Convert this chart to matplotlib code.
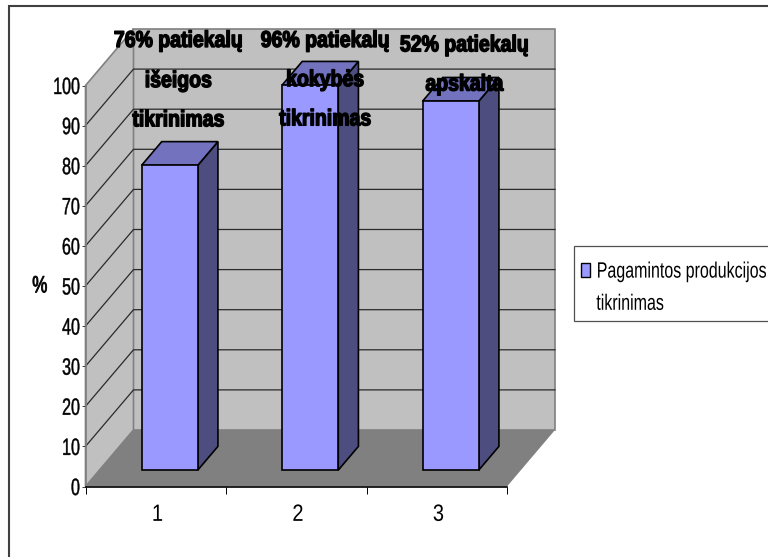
import matplotlib
matplotlib.use("Agg")
import matplotlib.pyplot as plt
from matplotlib.legend_handler import HandlerPatch
from matplotlib.patches import Patch, Polygon, Rectangle
from matplotlib.patheffects import AbstractPathEffect
from matplotlib.path import Path
from matplotlib.transforms import Affine2D

categories = ["1", "2", "3"]
values = [76, 96, 92]
bar_labels = [
    "76% patiekalų\nišeigos\ntikrinimas",
    "96% patiekalų\nkokybės\ntikrinimas",
    "52% patiekalų\napskaita",
]
label_x = [0.66, 1.705, 2.695]
label_top = [114.1, 114.1, 113.0]
y_ticks = list(range(0, 101, 10))
legend_label = "Pagamintos produkcijos\ntikrinimas"

WALL = "#C0C0C0"
FLOOR = "#808080"
EDGE_GRAY = "#808080"
BAR_FRONT = "#9999FF"
BAR_TOP = "#7272BF"
BAR_SIDE = "#4D4D80"

# Oblique depth of the 3-D box, in data units.
DEPTH_X = 0.3416
DEPTH_Y = 14.09
BAR_WIDTH = 0.40
BAR_NEAR = 0.29
BAR_FAR = 0.71


class Condensed(AbstractPathEffect):
    """Squeeze a text run horizontally, optionally thickening or nudging it."""

    def __init__(self, factor, anchor="center", stroke=0.0, drop=0.0):
        super().__init__()
        self.factor = factor
        self.anchor = anchor
        self.stroke = stroke
        self.drop = drop

    def draw_path(self, renderer, gc, tpath, affine, rgbFace=None):
        box = tpath.get_extents()
        pivot = {"left": box.x0, "right": box.x1, "center": (box.x0 + box.x1) / 2}[self.anchor]
        squeeze = Affine2D().translate(-pivot, 0).scale(self.factor, 1).translate(pivot, 0)
        squeezed = Path(squeeze.transform(tpath.vertices), tpath.codes)
        gc0 = renderer.new_gc()
        gc0.copy_properties(gc)
        if self.stroke:
            gc0.set_linewidth(self.stroke)
            gc0.set_foreground(rgbFace)
        else:
            gc0.set_linewidth(0)
        renderer.draw_path(gc0, squeezed, affine + Affine2D().translate(0, -self.drop), rgbFace)
        gc0.restore()


def legend_key(legend, orig_handle, xdescent, ydescent, width, height, fontsize):
    # Small swatch level with the first of the two legend lines.
    return Rectangle((-xdescent - 0.18 * fontsize, -ydescent + 0.77 * fontsize),
                     0.41 * fontsize, 0.63 * fontsize)


plt.rcParams["font.family"] = ["Liberation Sans", "DejaVu Sans"]

fig = plt.figure(figsize=(7.68, 5.57), dpi=100, facecolor="white")
W, H = fig.get_size_inches() * fig.dpi
ax = fig.add_axes([85.5 / W, (H - 486.5) / H, 421.5 / W, 401 / H])
ax.set_xlim(0, len(categories))
ax.set_ylim(0, 100)
ax.patch.set_visible(False)

# Chart frame, running off the right and bottom of the canvas.
fig.add_artist(Rectangle((9 / W, -0.05), 1.2, (H - 6) / H + 0.05, transform=fig.transFigure,
                         facecolor="none", edgecolor="#404040", linewidth=1.5))

n = len(categories)
# Back wall, side wall and floor of the box.
ax.add_patch(Polygon([(DEPTH_X, DEPTH_Y), (n + DEPTH_X, DEPTH_Y), (n + DEPTH_X, 100 + DEPTH_Y), (DEPTH_X, 100 + DEPTH_Y)],
                     closed=True, facecolor=WALL, edgecolor=EDGE_GRAY, linewidth=1.2, clip_on=False, zorder=1))
ax.add_patch(Polygon([(0, 0), (DEPTH_X, DEPTH_Y), (DEPTH_X, 100 + DEPTH_Y), (0, 100)],
                     closed=True, facecolor=WALL, edgecolor=EDGE_GRAY, linewidth=1.2, clip_on=False, zorder=1))
for v in y_ticks[1:-1]:
    ax.plot([0, DEPTH_X, n + DEPTH_X], [v, v + DEPTH_Y, v + DEPTH_Y], color="#2a2a2a",
            linewidth=0.9, clip_on=False, zorder=2)
ax.add_patch(Polygon([(0, 0), (n, 0), (n + DEPTH_X, DEPTH_Y), (DEPTH_X, DEPTH_Y)],
                     closed=True, facecolor=FLOOR, edgecolor="none", clip_on=False, zorder=3))

# Bars: side and top faces follow the depth offset of the front face.
for i, v in enumerate(values):
    left = i + 0.5 - BAR_WIDTH / 2 + BAR_NEAR * DEPTH_X
    right = left + BAR_WIDTH
    base = BAR_NEAR * DEPTH_Y
    span_x = (BAR_FAR - BAR_NEAR) * DEPTH_X
    span_y = (BAR_FAR - BAR_NEAR) * DEPTH_Y
    style = dict(closed=True, edgecolor="black", linewidth=1.2, clip_on=False, zorder=4)
    ax.add_patch(Polygon([(right, base), (right + span_x, base + span_y),
                          (right + span_x, base + span_y + v), (right, base + v)],
                         facecolor=BAR_SIDE, **style))
    ax.add_patch(Polygon([(left, base + v), (right, base + v),
                          (right + span_x, base + v + span_y), (left + span_x, base + v + span_y)],
                         facecolor=BAR_TOP, **style))
    ax.bar(left + BAR_WIDTH / 2, v, BAR_WIDTH, bottom=base, color=BAR_FRONT, edgecolor="black",
           linewidth=1.2, clip_on=False, zorder=5)

for x, top, text in zip(label_x, label_top, bar_labels):
    ax.text(x, top, text, ha="center", va="top", fontsize=16.5, fontweight="bold",
            linespacing=1.9, color="black", clip_on=False, zorder=6,
            path_effects=[Condensed(0.85, "center", stroke=1.0)])

# Axes furniture.
for side in ("top", "right"):
    ax.spines[side].set_visible(False)
ax.spines["bottom"].set_color("black")
ax.spines["bottom"].set_linewidth(1.2)
ax.spines["bottom"].set_zorder(7)
ax.spines["left"].set_color(EDGE_GRAY)
ax.spines["left"].set_linewidth(1.2)
ax.spines["left"].set_zorder(7)

ax.set_yticks(y_ticks)
ax.set_yticklabels([str(v) for v in y_ticks])
ax.tick_params(axis="y", length=3.2, width=0.7, color="#404040", pad=0.6, labelsize=17)
for label in ax.get_yticklabels():
    label.set_path_effects([Condensed(0.68, "right", stroke=0.3)])

ax.set_xticks(range(n + 1))
ax.set_xticklabels([])
ax.tick_params(axis="x", which="major", length=5, width=0.7, color="black")
ax.set_xticks([i + 0.512 for i in range(n)], minor=True)
ax.set_xticklabels(categories, minor=True, fontsize=17)
ax.tick_params(axis="x", which="minor", length=0, pad=12.5)
for label in ax.get_xticklabels(minor=True):
    label.set_path_effects([Condensed(0.85, "center")])

ax.text(-0.325, 49.9, "%", ha="center", va="center", fontsize=17,
        clip_on=False, path_effects=[Condensed(0.72, "center", stroke=0.6)])

key = Patch(facecolor=BAR_FRONT, edgecolor="black", linewidth=1.0)
leg = ax.legend(handles=[key], labels=[legend_label], loc="upper left",
                bbox_to_anchor=(574 / W, (H - 246) / H), bbox_transform=fig.transFigure,
                handler_map={Patch: HandlerPatch(patch_func=legend_key)},
                fontsize=16, fancybox=False, framealpha=1, edgecolor="#505050",
                borderaxespad=0, borderpad=0.5, handlelength=0.5, handleheight=1.0,
                handletextpad=0, labelspacing=0)
leg.get_frame().set_linewidth(0.9)
for t in leg.get_texts():
    t.set_linespacing(1.7)
    t.set_path_effects([Condensed(0.72, "left", drop=4.5)])

fig.savefig("out.png", dpi=100)
